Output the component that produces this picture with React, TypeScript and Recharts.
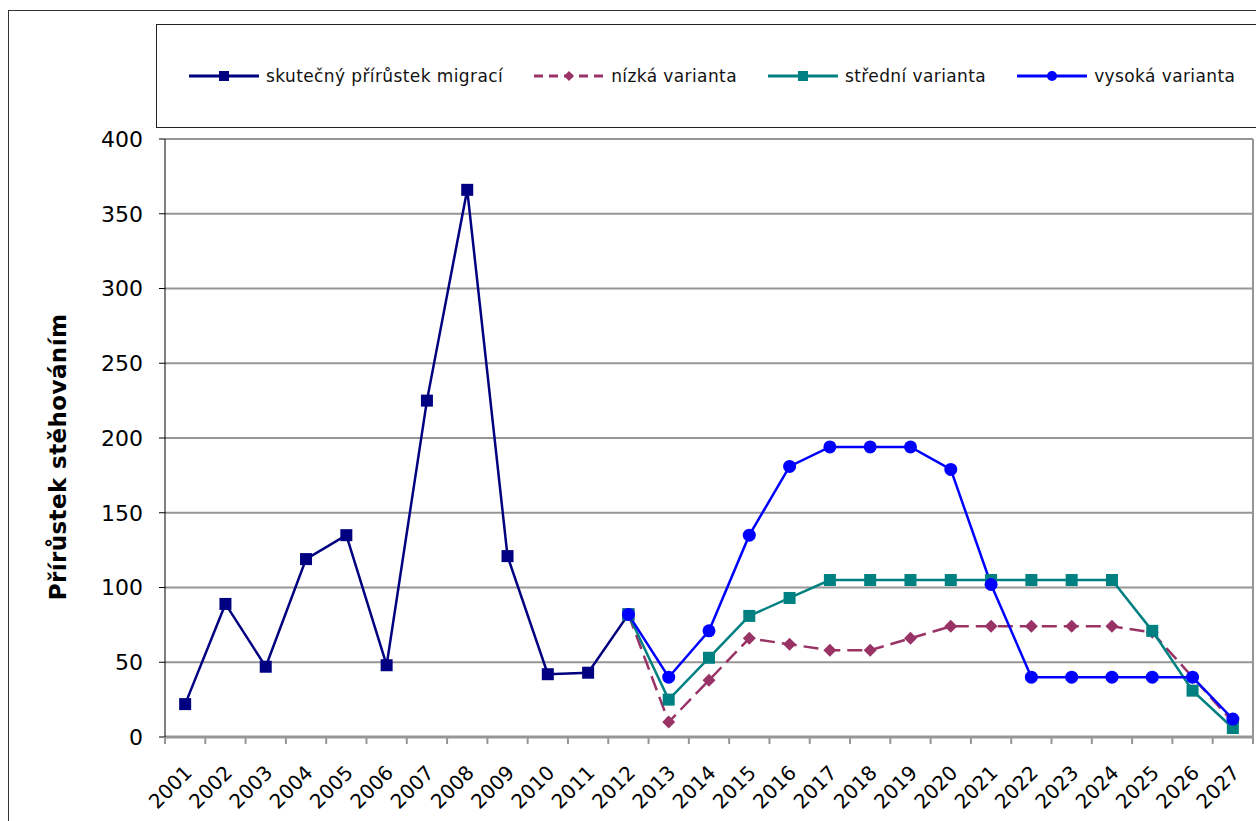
import React from 'react'
import {
  LineChart,
  Line,
  XAxis,
  YAxis,
  CartesianGrid,
  ReferenceLine,
} from 'recharts'

// roky na ose X
const years = [
  '2001', '2002', '2003', '2004', '2005', '2006', '2007', '2008', '2009',
  '2010', '2011', '2012', '2013', '2014', '2015', '2016', '2017', '2018',
  '2019', '2020', '2021', '2022', '2023', '2024', '2025', '2026', '2027',
]

// skutečný přírůstek (2001–2012)
const actual = [22, 89, 47, 119, 135, 48, 225, 366, 121, 42, 43, 82]
// varianty projekce (2012–2027)
const lowVariant = [82, 10, 38, 66, 62, 58, 58, 66, 74, 74, 74, 74, 74, 70, 40, 10]
const midVariant = [82, 25, 53, 81, 93, 105, 105, 105, 105, 105, 105, 105, 105, 71, 31, 6]
const highVariant = [82, 40, 71, 135, 181, 194, 194, 194, 179, 102, 40, 40, 40, 40, 40, 12]

const yTicks = [0, 50, 100, 150, 200, 250, 300, 350, 400]

const PROJ_START = 11 // index roku 2012

const W = 1256
const H = 821
const Y_AXIS_W = 165
const RIGHT = 3
const PLOT_W = W - Y_AXIS_W - RIGHT
const STEP = PLOT_W / years.length

const FONT = '"DejaVu Sans", Verdana, sans-serif'

const data = years.map((y, i) => ({
  pos: i + 1,
  year: y,
  actual: i < actual.length ? actual[i] : null,
  low: i >= PROJ_START ? lowVariant[i - PROJ_START] : null,
  mid: i >= PROJ_START ? midVariant[i - PROJ_START] : null,
  high: i >= PROJ_START ? highVariant[i - PROJ_START] : null,
}))

const squareDot = (color: string, size: number) => (props: any) => {
  const { cx, cy, index } = props
  if (cx == null || cy == null || props.value == null) return <g key={index} />
  return <rect key={index} x={cx - size / 2} y={cy - size / 2} width={size} height={size} fill={color} />
}

const diamondDot = (color: string, r: number) => (props: any) => {
  const { cx, cy, index } = props
  if (cx == null || cy == null || props.value == null) return <g key={index} />
  return (
    <polygon
      key={index}
      points={`${cx},${cy - r} ${cx + r},${cy} ${cx},${cy + r} ${cx - r},${cy}`}
      fill={color}
    />
  )
}

const circleDot = (color: string, r: number) => (props: any) => {
  const { cx, cy, index } = props
  if (cx == null || cy == null || props.value == null) return <g key={index} />
  return <circle key={index} cx={cx} cy={cy} r={r} fill={color} />
}

const XTick = (props: any) => {
  const { x, y, payload, index } = props
  const label = years[payload.value - 1]
  const last = index === years.length - 1
  const tx = x + 8
  const ty = y + 37
  return (
    <g>
      <line x1={x - STEP / 2} y1={y} x2={x - STEP / 2} y2={y + 7} stroke="#969696" strokeWidth={2} />
      {last && (
        <line x1={x + STEP / 2} y1={y} x2={x + STEP / 2} y2={y + 7} stroke="#969696" strokeWidth={2} />
      )}
      <text
        x={tx}
        y={ty}
        transform={`rotate(-45 ${tx} ${ty})`}
        textAnchor="end"
        fontSize={20}
        fontFamily={FONT}
        fill="#000"
      >
        {label}
      </text>
    </g>
  )
}

const legendItems = [
  { name: 'skutečný přírůstek migrací', color: '#000080', shape: 'square', dash: undefined },
  { name: 'nízká varianta', color: '#993366', shape: 'diamond', dash: '9 6' },
  { name: 'střední varianta', color: '#008080', shape: 'square', dash: undefined },
  { name: 'vysoká varianta', color: '#0000FF', shape: 'circle', dash: undefined },
]

function LegendIcon({ color, shape, dash }: { color: string; shape: string; dash?: string }) {
  return (
    <svg width={70} height={16} style={{ display: 'block' }}>
      <line x1={0} y1={8} x2={70} y2={8} stroke={color} strokeWidth={3} strokeDasharray={dash} />
      {shape === 'square' && <rect x={30} y={3} width={10} height={10} fill={color} />}
      {shape === 'diamond' && <polygon points="35,3 40,8 35,13 30,8" fill={color} />}
      {shape === 'circle' && <circle cx={35} cy={8} r={5} fill={color} />}
    </svg>
  )
}

export default function App() {
  return (
    <div
      style={{
        position: 'absolute',
        left: 0,
        top: 0,
        width: W,
        height: H,
        overflow: 'hidden',
        background: '#fff',
      }}
    >
      {/* rámeček grafu */}
      <div
        style={{
          position: 'absolute',
          left: 8,
          top: 10,
          width: W + 20,
          height: H + 20,
          border: '1px solid #333',
        }}
      />
      {/* legenda */}
      <div
        style={{
          position: 'absolute',
          left: 156,
          top: 24,
          width: W,
          height: 102,
          border: '1px solid #222',
          fontFamily: FONT,
          fontSize: 17,
          letterSpacing: 0.4,
          color: '#111',
        }}
      >
        <div
          style={{
            position: 'absolute',
            left: 32,
            top: 41,
            display: 'flex',
            alignItems: 'center',
            gap: 31,
            whiteSpace: 'nowrap',
          }}
        >
          {legendItems.map(it => (
            <div key={it.name} style={{ display: 'flex', alignItems: 'center', gap: 7 }}>
              <LegendIcon color={it.color} shape={it.shape} dash={it.dash} />
              <span>{it.name}</span>
            </div>
          ))}
        </div>
      </div>
      <div style={{ position: 'absolute', left: 0, top: 0 }}>
        <LineChart
          width={W}
          height={H}
          data={data}
          margin={{ top: 139, right: RIGHT, bottom: 0, left: 0 }}
        >
          <CartesianGrid vertical={false} stroke="#969696" strokeWidth={2} />
          <XAxis
            dataKey="pos"
            type="number"
            domain={[0.5, years.length + 0.5]}
            ticks={years.map((_, i) => i + 1)}
            interval={0}
            height={84}
            tickLine={false}
            tickSize={0}
            tickMargin={0}
            axisLine={{ stroke: '#969696', strokeWidth: 3 }}
            tick={<XTick />}
          />
          <YAxis
            width={Y_AXIS_W}
            domain={[0, 400]}
            ticks={yTicks}
            interval={0}
            tickSize={6}
            tickMargin={16}
            axisLine={{ stroke: '#000' }}
            tickLine={{ stroke: '#000' }}
            tick={{ fontSize: 22, fontFamily: FONT, fill: '#000' }}
            label={() => (
              <text
                x={66}
                y={457}
                transform="rotate(-90 66 457)"
                textAnchor="middle"
                fontSize={23}
                fontWeight="bold"
                letterSpacing={0.4}
                fontFamily={FONT}
                fill="#000"
              >
                Přírůstek stěhováním
              </text>
            )}
          />
          <ReferenceLine x={years.length + 0.5} stroke="#969696" strokeWidth={2} />
          <Line
            dataKey="actual"
            stroke="#000080"
            strokeWidth={2.5}
            dot={squareDot('#000080', 12)}
            activeDot={false}
            isAnimationActive={false}
          />
          <Line
            dataKey="low"
            stroke="#993366"
            strokeWidth={2.5}
            strokeDasharray="15 7"
            dot={diamondDot('#993366', 6.5)}
            activeDot={false}
            isAnimationActive={false}
          />
          <Line
            dataKey="mid"
            stroke="#008080"
            strokeWidth={2.5}
            dot={squareDot('#008080', 12)}
            activeDot={false}
            isAnimationActive={false}
          />
          <Line
            dataKey="high"
            stroke="#0000FF"
            strokeWidth={2.5}
            dot={circleDot('#0000FF', 6.5)}
            activeDot={false}
            isAnimationActive={false}
          />
        </LineChart>
      </div>
    </div>
  )
}
